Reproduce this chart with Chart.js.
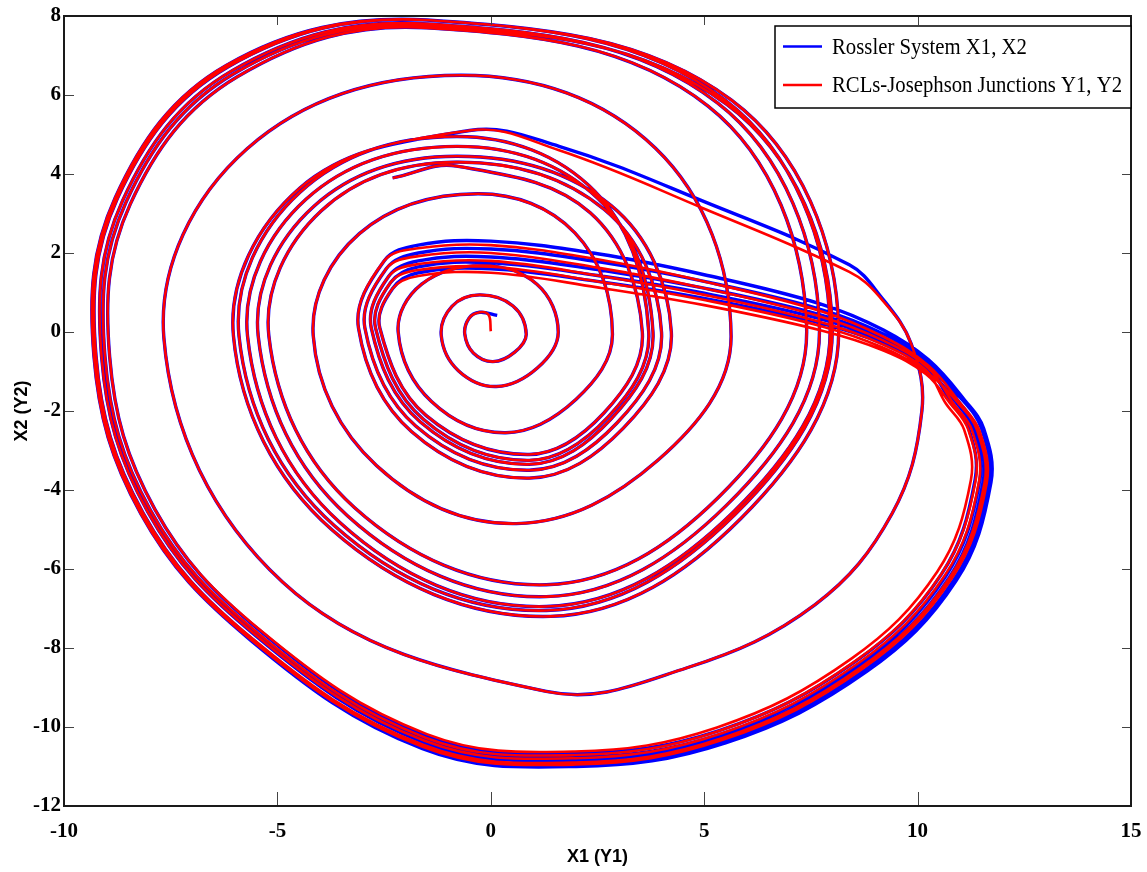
<!DOCTYPE html>
<html>
<head>
<meta charset="utf-8">
<script src="https://cdn.jsdelivr.net/npm/chart.js@4/dist/chart.umd.min.js"></script>
<style>
  html, body { margin: 0; padding: 0; background: #ffffff; }
  #wrap { width: 1147px; height: 872px; position: relative; }
</style>
</head>
<body>
<div id="wrap"><canvas id="phase"></canvas></div>
<script>
// axis ticks
const xTicks = [-10, -5, 0, 5, 10, 15];
const yTicks = [-12, -10, -8, -6, -4, -2, 0, 2, 4, 6, 8];

// Rossler system trajectory, X1 / X2 (loop by loop)
const rosslerX1 = [
  0.15,
  -0.26, -0.51, -0.61, -0.41, 0.05, 0.56, 0.83, 0.52,
  -0.26, -0.91, -1.16, -0.76, 0.13, 1.09, 1.58, 1.08,
  -0.2, -1.62, -2.17, -1.39, 0.35, 2.0, 2.85, 1.97,
  -0.3, -3.08, -4.16, -2.68, 0.6, 3.92, 5.63, 3.86,
  -0.7, -5.71, -7.66, -4.88, 1.3, 4.6, 7.6, 9.4, 10.1, 9.85, 9.1, 8.4, 5.0, 1.6,
  -0.5, -4.48, -6.03, -3.73, 1.4, 5.86, 8.15, 5.64,
  -1.5, -6.2, -8.8, -9.3, -8.2, -5.63, -1.6, 2.0, 5.5, 8.8, 10.9, 11.72, 11.55, 11.1,
  10.25, 9.2, 7.7, 5.0, 2.5, 0, -1.7, -2.5,
  -3.1, -1.86, 0.9, 3.1, 4.23, 2.82, -0.8,
  -4.15, -5.45, -3.36, 1.3, 5.52, 7.7, 5.31, -1.5,
  -6.07, -8.63, -9.12, -8.04, -5.51, -1.55, 1.99, 5.43, 8.67, 10.74, 11.54, 11.37, 10.93,
  10.25, 9.2, 7.7, 5.0, 2.5, 0, -1.7, -2.45,
  -2.95, -1.76, 0.9, 2.95, 4.0, 2.66, -0.8,
  -3.97, -5.2, -3.19, 1.3, 5.33, 7.4, 5.09, -1.5,
  -5.94, -8.45, -8.93, -7.87, -5.39, -1.5, 1.97, 5.35, 8.53, 10.56, 11.35, 11.19, 10.75,
  10.2, 9.2, 7.7, 5.0, 2.5, 0, -1.7, -2.4,
  -2.8, -1.65, 0.9, 2.81, 3.8, 2.51, -0.8,
  -4.33, -5.7, -3.53, 1.3, 5.69, 7.95, 5.49, -1.5,
  -6.16, -8.75, -9.25, -8.15, -5.6, -1.59, 2.0, 5.48, 8.76, 10.85, 11.67, 11.5, 11.05,
  10.22, 9.2, 7.7, 5.0, 2.5, 0, -1.7, -2.35,
  -2.7, -1.58, 0.9, 2.75, 3.7, 2.44, -0.8,
  -4.47, -5.9, -3.67, 1.3, 5.72, 8.0, 5.53, -1.5,
  -6.02, -8.55, -9.04, -7.97, -5.46, -1.53, 1.98, 5.39, 8.61, 10.66, 11.46, 11.29, 10.85,
  10.2, 9.2, 7.7, 5.0, 2.5, 0, -1.7, -2.3,
  -2.6, -1.52, 0.9, 2.65, 3.55, 2.33, -0.8, -2.3
];
const rosslerX2 = [
  0.42,
  0.5, 0.35, -0.05, -0.53, -0.75, -0.51, -0.05, 0.66,
  0.94, 0.65, -0.1, -0.98, -1.38, -0.91, 0.0, 1.21,
  1.68, 1.21, 0.0, -1.76, -2.55, -1.7, -0.05, 2.51,
  3.5, 2.49, -0.1, -3.38, -4.85, -3.24, -0.1, 4.65,
  6.5, 4.64, -0.15, -6.33, -9.1, -8.5, -6.9, -4.6, -2.0, -0.3, 0.95, 1.7, 3.3, 4.7,
  5.1, 3.64, -0.1, -5.0, -7.2, -4.72, 0.1, 5.87,
  7.9, 6.75, 3.4, -0.6, -4.6, -7.8, -10.55, -11.0, -10.4, -8.6, -6.3, -3.8, -2.45, -1.72,
  -0.7, 0.05, 0.72, 1.45, 1.98, 2.3, 2.2, 1.8,
  0.1, -2.52, -3.7, -2.44, 0, 3.2, 4.45,
  3.18, -0.1, -4.65, -6.7, -4.39, 0.1, 5.8, 7.8,
  6.61, 3.32, -0.62, -4.55, -7.69, -10.4, -10.84, -10.25, -8.48, -6.22, -3.76, -2.43, -1.72,
  -0.76, -0.05, 0.58, 1.28, 1.78, 2.1, 2.0, 1.6,
  0.1, -2.38, -3.5, -2.31, 0, 3.1, 4.3,
  3.07, -0.1, -4.45, -6.4, -4.19, 0.1, 5.72, 7.7,
  6.46, 3.23, -0.63, -4.49, -7.58, -10.23, -10.67, -10.09, -8.35, -6.13, -3.72, -2.42, -1.71,
  -0.82, -0.15, 0.44, 1.11, 1.58, 1.9, 1.8, 1.4,
  0.1, -2.28, -3.35, -2.21, 0, 3.38, 4.7,
  3.36, -0.1, -4.83, -6.95, -4.55, 0.1, 5.87, 7.9,
  6.71, 3.38, -0.6, -4.58, -7.77, -10.5, -10.95, -10.36, -8.56, -6.28, -3.79, -2.45, -1.72,
  -0.87, -0.23, 0.34, 0.98, 1.43, 1.75, 1.65, 1.25,
  0.1, -2.21, -3.25, -2.15, 0, 3.56, 4.95,
  3.54, -0.1, -4.9, -7.05, -4.62, 0.1, 5.76, 7.75,
  6.54, 3.28, -0.62, -4.52, -7.64, -10.32, -10.76, -10.18, -8.42, -6.18, -3.74, -2.43, -1.71,
  -0.92, -0.3, 0.23, 0.85, 1.28, 1.6, 1.5, 1.1,
  0.1, -2.11, -3.1, -2.05, 0, 3.02, 4.2, 3.9
];

// RCLs-Josephson junctions trajectory, Y1 / Y2
const junctionY1 = [
  0.0, -0.05,
  -0.26, -0.51, -0.61, -0.41, 0.05, 0.56, 0.83, 0.52,
  -0.26, -0.91, -1.16, -0.76, 0.13, 1.09, 1.58, 1.08,
  -0.2, -1.62, -2.17, -1.39, 0.35, 2.0, 2.85, 1.97,
  -0.3, -3.08, -4.16, -2.68, 0.6, 3.92, 5.63, 3.86,
  -0.7, -5.71, -7.66, -4.88, 1.3, 4.6, 7.6, 9.4, 10.1, 9.85, 9.1, 8.4, 5.0, 1.6,
  -0.5, -4.48, -6.03, -3.73, 1.4, 5.86, 8.15, 5.64,
  -1.5, -6.2, -8.8, -9.3, -8.2, -5.63, -1.6, 2.0, 5.45, 8.72, 10.8, 11.62, 11.45, 11.0,
  10.25, 9.2, 7.7, 5.0, 2.5, 0, -1.7, -2.5,
  -3.1, -1.86, 0.9, 3.1, 4.23, 2.82, -0.8,
  -4.15, -5.45, -3.36, 1.3, 5.52, 7.7, 5.31, -1.5,
  -6.07, -8.63, -9.12, -8.04, -5.51, -1.55, 1.99, 5.38, 8.59, 10.64, 11.44, 11.27, 10.83,
  10.25, 9.2, 7.7, 5.0, 2.5, 0, -1.7, -2.45,
  -2.95, -1.76, 0.9, 2.95, 4.0, 2.66, -0.8,
  -3.97, -5.2, -3.19, 1.3, 5.33, 7.4, 5.09, -1.5,
  -5.94, -8.45, -8.93, -7.87, -5.39, -1.5, 1.97, 5.3, 8.45, 10.46, 11.25, 11.09, 10.65,
  10.2, 9.2, 7.7, 5.0, 2.5, 0, -1.7, -2.4,
  -2.8, -1.65, 0.9, 2.81, 3.8, 2.51, -0.8,
  -4.33, -5.7, -3.53, 1.3, 5.69, 7.95, 5.49, -1.5,
  -6.16, -8.75, -9.25, -8.15, -5.6, -1.59, 2.0, 5.43, 8.68, 10.75, 11.57, 11.4, 10.95,
  10.22, 9.2, 7.7, 5.0, 2.5, 0, -1.7, -2.35,
  -2.7, -1.58, 0.9, 2.75, 3.7, 2.44, -0.8,
  -4.47, -5.9, -3.67, 1.3, 5.72, 8.0, 5.53, -1.5,
  -6.02, -8.55, -9.04, -7.97, -5.46, -1.53, 1.98, 5.34, 8.53, 10.56, 11.36, 11.19, 10.75,
  10.2, 9.2, 7.7, 5.0, 2.5, 0, -1.7, -2.3,
  -2.6, -1.52, 0.9, 2.65, 3.55, 2.33, -0.8, -2.3
];
const junctionY2 = [
  0.02, 0.43,
  0.5, 0.35, -0.05, -0.53, -0.75, -0.51, -0.05, 0.66,
  0.94, 0.65, -0.1, -0.98, -1.38, -0.91, 0.0, 1.21,
  1.68, 1.21, 0.0, -1.76, -2.55, -1.7, -0.05, 2.51,
  3.5, 2.49, -0.1, -3.38, -4.85, -3.24, -0.1, 4.65,
  6.5, 4.64, -0.15, -6.33, -9.1, -8.5, -6.9, -4.6, -2.0, -0.3, 0.9, 1.52, 3.12, 4.6,
  5.1, 3.64, -0.1, -5.0, -7.2, -4.72, 0.1, 5.87,
  7.9, 6.75, 3.4, -0.6, -4.6, -7.78, -10.5, -10.95, -10.32, -8.52, -6.24, -3.82, -2.5, -1.8,
  -0.85, -0.12, 0.54, 1.28, 1.84, 2.2, 2.12, 1.8,
  0.1, -2.52, -3.7, -2.44, 0, 3.2, 4.45,
  3.18, -0.1, -4.65, -6.7, -4.39, 0.1, 5.8, 7.8,
  6.61, 3.32, -0.62, -4.55, -7.67, -10.35, -10.79, -10.17, -8.4, -6.16, -3.78, -2.48, -1.8,
  -0.91, -0.22, 0.4, 1.11, 1.63, 2.0, 1.92, 1.6,
  0.1, -2.38, -3.5, -2.31, 0, 3.1, 4.3,
  3.07, -0.1, -4.45, -6.4, -4.19, 0.1, 5.72, 7.7,
  6.46, 3.23, -0.63, -4.49, -7.56, -10.18, -10.62, -10.01, -8.27, -6.07, -3.74, -2.47, -1.79,
  -0.97, -0.32, 0.26, 0.94, 1.43, 1.8, 1.72, 1.4,
  0.1, -2.28, -3.35, -2.21, 0, 3.38, 4.7,
  3.36, -0.1, -4.83, -6.95, -4.55, 0.1, 5.87, 7.9,
  6.71, 3.38, -0.6, -4.58, -7.75, -10.45, -10.9, -10.28, -8.48, -6.22, -3.81, -2.5, -1.8,
  -1.02, -0.4, 0.16, 0.81, 1.28, 1.65, 1.57, 1.25,
  0.1, -2.21, -3.25, -2.15, 0, 3.56, 4.95,
  3.54, -0.1, -4.9, -7.05, -4.62, 0.1, 5.76, 7.75,
  6.54, 3.28, -0.62, -4.52, -7.62, -10.27, -10.71, -10.1, -8.34, -6.12, -3.76, -2.48, -1.79,
  -1.07, -0.47, 0.05, 0.68, 1.13, 1.5, 1.42, 1.1,
  0.1, -2.11, -3.1, -2.05, 0, 3.02, 4.2, 3.9
];

const seriesLabels = ["Rossler System X1, X2", "RCLs-Josephson Junctions Y1, Y2"];

const rosslerPoints = rosslerX1.map((x, i) => ({ x: x, y: rosslerX2[i] }));
const junctionPoints = junctionY1.map((x, i) => ({ x: x, y: junctionY2[i] }));

const tickFont = { family: "Liberation Serif", size: 21, weight: "bold" };
const titleFont = { family: "Liberation Sans", size: 18, weight: "bold" };

// box + inward tick marks, like the original figure
const frameTicks = {
  id: "frameTicks",
  afterDraw(chart) {
    const ctx = chart.ctx;
    const a = chart.chartArea;
    const xs = chart.scales.x, ys = chart.scales.y;
    ctx.save();
    ctx.strokeStyle = "#444";
    ctx.lineWidth = 1;
    xTicks.forEach(v => {
      const px = Math.round(xs.getPixelForValue(v)) + 0.5;
      ctx.beginPath();
      ctx.moveTo(px, a.bottom); ctx.lineTo(px, a.bottom - 14);
      ctx.moveTo(px, a.top); ctx.lineTo(px, a.top + 9);
      ctx.stroke();
    });
    yTicks.forEach(v => {
      const py = Math.round(ys.getPixelForValue(v)) + 0.5;
      ctx.beginPath();
      ctx.moveTo(a.left, py); ctx.lineTo(a.left + 10, py);
      ctx.moveTo(a.right, py); ctx.lineTo(a.right - 9, py);
      ctx.stroke();
    });
    ctx.strokeStyle = "#1a1a1a";
    ctx.lineWidth = 2;
    ctx.strokeRect(a.left, a.top, a.right - a.left, a.bottom - a.top);
    ctx.restore();
  }
};

// boxed legend in the top right corner of the axes
const boxLegend = {
  id: "boxLegend",
  afterDraw(chart) {
    const ctx = chart.ctx;
    const a = chart.chartArea;
    const w = 356, h = 82;
    const x0 = a.right - w, y0 = a.top + 10;
    const widths = [195, 290];
    ctx.save();
    ctx.fillStyle = "#ffffff";
    ctx.fillRect(x0, y0, w, h);
    ctx.strokeStyle = "#000";
    ctx.lineWidth = 1.5;
    ctx.strokeRect(x0, y0, w, h);
    chart.data.datasets.forEach((ds, i) => {
      const y = y0 + 20.5 + i * 38.5;
      ctx.strokeStyle = ds.borderColor;
      ctx.lineWidth = 2.5;
      ctx.beginPath();
      ctx.moveTo(x0 + 8, y); ctx.lineTo(x0 + 47, y);
      ctx.stroke();
      ctx.fillStyle = "#000";
      ctx.font = '24px "Liberation Serif"';
      ctx.textBaseline = "middle";
      ctx.textAlign = "left";
      ctx.fillText(ds.label, x0 + 57, y + 1, widths[i]);
    });
    ctx.restore();
  }
};

new Chart(document.getElementById("phase"), {
  type: "scatter",
  data: {
    datasets: [
      {
        label: seriesLabels[0],
        data: rosslerPoints,
        showLine: true,
        borderColor: "#0000ff",
        borderWidth: 3.4,
        pointRadius: 0,
        tension: 0.38,
        fill: false,
        order: 2
      },
      {
        label: seriesLabels[1],
        data: junctionPoints,
        showLine: true,
        borderColor: "#ff0000",
        borderWidth: 2.6,
        pointRadius: 0,
        tension: 0.38,
        fill: false,
        order: 1
      }
    ]
  },
  options: {
    responsive: true,
    maintainAspectRatio: false,
    animation: false,
    layout: { padding: { top: 16, right: 16, left: 0, bottom: 0 } },
    plugins: {
      legend: { display: false },
      tooltip: { enabled: false }
    },
    scales: {
      x: {
        type: "linear",
        min: -10,
        max: 15,
        afterBuildTicks: (scale) => { scale.ticks = xTicks.map(v => ({ value: v })); },
        ticks: { font: tickFont, color: "#000", padding: 13, maxRotation: 0, autoSkip: false },
        grid: { display: false, drawTicks: false },
        border: { display: false },
        title: { display: true, text: "X1 (Y1)", font: titleFont, color: "#000", padding: { top: 0, bottom: 4 } },
        afterFit: (scale) => {
          scale.height = 66;
          scale.paddingLeft = 0;
          scale.paddingRight = 0;
        }
      },
      y: {
        type: "linear",
        min: -12,
        max: 8,
        afterBuildTicks: (scale) => { scale.ticks = yTicks.map(v => ({ value: v })); },
        ticks: { font: tickFont, color: "#000", padding: 3, autoSkip: false },
        grid: { display: false, drawTicks: false },
        border: { display: false },
        title: { display: true, text: "X2 (Y2)", font: titleFont, color: "#000", padding: { top: 11, bottom: 0 } },
        afterFit: (scale) => { scale.width = 64; }
      }
    }
  },
  plugins: [frameTicks, boxLegend]
});
</script>
</body>
</html>
